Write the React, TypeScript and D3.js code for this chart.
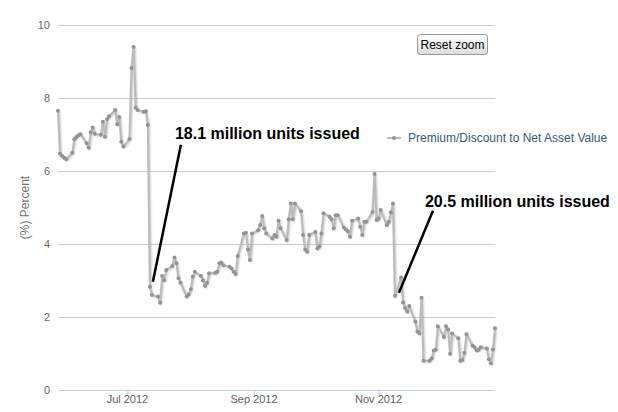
import * as d3 from 'd3';

// Monday of each trading week, five weekday values per week
const weekStarts = [
    '2012-05-28', '2012-06-04', '2012-06-11', '2012-06-18', '2012-06-25',
    '2012-07-02', '2012-07-09', '2012-07-16', '2012-07-23', '2012-07-30',
    '2012-08-06', '2012-08-13', '2012-08-20', '2012-08-27', '2012-09-03',
    '2012-09-10', '2012-09-17', '2012-09-24', '2012-10-01', '2012-10-08',
    '2012-10-15', '2012-10-22', '2012-10-29', '2012-11-05', '2012-11-12',
    '2012-11-19', '2012-11-26', '2012-12-03', '2012-12-10', '2012-12-17',
    '2012-12-24'
];

const premiumByWeek = [
    [7.65, 6.47, 6.41, 6.36, 6.32],
    [6.5, 6.87, 6.93, 6.98, 7.01],
    [6.76, 6.64, 7.06, 7.19, 7.02],
    [6.99, 7.35, 6.94, 7.42, 7.5],
    [7.67, 7.28, 7.48, 6.8, 6.67],
    [6.88, 8.82, 9.4, 7.73, 7.67],
    [7.62, 7.64, 7.26, 2.83, 2.6],
    [2.56, 2.39, 3.12, 3.01, 3.29],
    [3.4, 3.63, 3.47, 3.06, 2.94],
    [2.56, 2.62, 2.76, 3.1, 3.24],
    [3.12, 3.01, 2.85, 2.94, 3.2],
    [3.21, 3.24, 3.47, 3.49, 3.42],
    [3.38, 3.33, 3.24, 3.18, 3.67],
    [4.29, 4.31, 3.85, 3.56, 4.29],
    [4.38, 4.52, 4.77, 4.43, 4.29],
    [4.15, 4.25, 4.2, 4.64, 4.43],
    [4.11, 4.68, 5.11, 4.68, 5.11],
    [4.9, 4.25, 3.85, 3.79, 4.25],
    [4.33, 3.88, 3.93, 4.29, 4.84],
    [4.75, 4.68, 4.43, 4.79, 4.79],
    [4.45, 4.4, 4.34, 4.2, 4.64],
    [4.7, 4.47, 4.25, 4.61, 4.61],
    [4.88, 5.92, 4.66, 4.7, 4.93],
    [4.52, 4.61, 4.86, 5.11, 2.58],
    [3.08, 2.4, 2.25, 2.15, 2.3],
    [1.87, 1.6, 1.55, 2.53, 0.8],
    [0.8, 0.87, 1.08, 1.1, 1.75],
    [1.45, 1.75, 1.66, 0.99, 1.55],
    [1.42, 0.8, 0.82, 1.02, 1.53],
    [1.21, 1.17, 1.08, 1.1, 1.17],
    [1.14, 0.84, 0.73, 1.11, 1.69]
];

const yTicks = [0, 2, 4, 6, 8, 10];
const seriesName = 'Premium/Discount to Net Asset Value';
const yTitle = '(%) Percent';

const annotationDates = ['2012-07-12', '2012-11-09'];
const annotationLabels = ['18.1 million units issued', '20.5 million units issued'];

const parse = d3.timeParse('%Y-%m-%d');

const App = () => {
    const width = 618;
    const height = 412;
    const margin = { top: 25, right: 123, bottom: 22, left: 58 };
    const font = '"Liberation Sans", Arial, sans-serif';

    const data: any[] = [];
    weekStarts.forEach((w, i) => {
        const monday: any = parse(w);
        premiumByWeek[i].forEach((v, j) => {
            data.push({ date: d3.timeDay.offset(monday, j), value: v });
        });
    });

    const x = d3.scaleTime()
        .domain(d3.extent(data, (d: any) => d.date) as any)
        .range([margin.left, width - margin.right]);
    const y = d3.scaleLinear()
        .domain([0, 10])
        .range([height - margin.bottom, margin.top]);

    const line: any = d3.line()
        .x((d: any) => x(d.date))
        .y((d: any) => y(d.value));
    const path = line(data);

    const xTicks = x.ticks(d3.timeMonth.every(2) as any);
    const fmt = d3.timeFormat('%b %Y');

    const anchors = annotationDates.map((s, i) => {
        const t = (parse(s) as any).getTime();
        const p = data.find((d: any) => d.date.getTime() === t);
        return { px: x(p.date), py: y(p.value), label: annotationLabels[i] };
    });
    // label / leader offsets from the anchored point
    const offsets = [
        { x1: 3, y1: -5, x2: 31, y2: -142, tx: 25, ty: -148 },
        { x1: 4, y1: -3, x2: 38, y2: -85, tx: 30, ty: -89 }
    ];

    return (
        <svg width={width} height={height} style={{ position: 'absolute', left: 0, top: 0, fontFamily: font }}>
            <defs>
                <linearGradient id="btn" x1="0" y1="0" x2="0" y2="1">
                    <stop offset="0" stopColor="#ffffff" />
                    <stop offset="1" stopColor="#dcdcdc" />
                </linearGradient>
            </defs>
            <rect width={width} height={height} fill="#fff" />
            {yTicks.map(t => (
                <g key={t}>
                    {t > 0 && <line x1={margin.left} x2={width - margin.right} y1={y(t) + 0.5} y2={y(t) + 0.5}
                        stroke="#cccccc" strokeWidth={1} />}
                    <text x={50} y={y(t) + 4} textAnchor="end" fontSize={11} fill="#666">{t}</text>
                </g>
            ))}
            <line x1={margin.left} x2={width - margin.right} y1={y(0) + 0.5} y2={y(0) + 0.5} stroke="#C0D0E0" strokeWidth={1} />
            {xTicks.map((t: any) => (
                <g key={t.getTime()}>
                    <line x1={x(t) + 0.5} x2={x(t) + 0.5} y1={y(0)} y2={y(0) + 5} stroke="#C0D0E0" />
                    <text x={x(t)} y={403} textAnchor="middle" fontSize={11} fill="#606060">{fmt(t)}</text>
                </g>
            ))}
            <text transform={`translate(29,${(margin.top + height - margin.bottom) / 2}) rotate(-90)`}
                textAnchor="middle" fontSize={12} fill="#707070">{yTitle}</text>

            <g transform="translate(1,1)" fill="none">
                <path d={path} stroke="#000" strokeOpacity={0.04} strokeWidth={5} strokeLinejoin="round" />
                <path d={path} stroke="#000" strokeOpacity={0.07} strokeWidth={3} strokeLinejoin="round" />
                <path d={path} stroke="#000" strokeOpacity={0.1} strokeWidth={1} strokeLinejoin="round" />
            </g>
            <path d={path} fill="none" stroke="#bbbbbb" strokeWidth={2} strokeLinejoin="round" />
            {data.map((d: any, i: number) => (
                <circle key={i} cx={x(d.date)} cy={y(d.value)} r={2} fill="#939393" />
            ))}

            {anchors.map((a, i) => (
                <g key={i}>
                    <line x1={a.px + offsets[i].x1} y1={a.py + offsets[i].y1} x2={a.px + offsets[i].x2} y2={a.py + offsets[i].y2}
                        stroke="#000" strokeWidth={2.5} />
                    <text x={a.px + offsets[i].tx} y={a.py + offsets[i].ty} fontSize={16} fontWeight="bold" fill="#000">{a.label}</text>
                </g>
            ))}

            <g transform="translate(387,138)">
                <line x1={0} x2={14} y1={0} y2={0} stroke="#bbbbbb" strokeWidth={2} />
                <circle cx={7} cy={0} r={2} fill="#939393" />
                <text x={21} y={4} fontSize={12} fill="#3E576F">{seriesName}</text>
            </g>

            <g transform="translate(417,34)">
                <rect x={0.5} y={0.5} width={70} height={20} rx={3} fill="url(#btn)" stroke="#999" />
                <text x={35.5} y={15} textAnchor="middle" fontSize={12} fill="#000">Reset zoom</text>
            </g>
        </svg>
    );
};

export default App;
